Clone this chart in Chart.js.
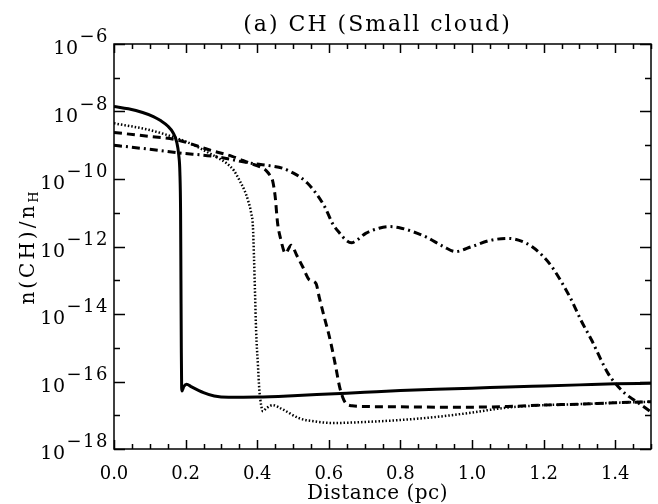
<!DOCTYPE html>
<html>
<head>
<meta charset="utf-8">
<script src="https://cdn.jsdelivr.net/npm/chart.js@4.4.1/dist/chart.umd.min.js"></script>
<style>
  html, body { margin: 0; padding: 0; background: #fff; }
</style>
</head>
<body>
<canvas id="chCloud" width="658" height="504"></canvas>
<script>
// values; abundances kept as log10 of n(CH)/nH
const solidDist = [0, 0.04, 0.08, 0.11, 0.13, 0.15, 0.165, 0.175, 0.181, 0.184, 0.186, 0.187, 0.188, 0.189, 0.19, 0.195, 0.203, 0.215, 0.25, 0.28, 0.32, 0.4, 0.5, 0.6, 0.7, 0.8, 0.9, 1.0, 1.1, 1.2, 1.3, 1.4, 1.5];
const solidLog = [-7.85, -7.92, -8.03, -8.15, -8.27, -8.43, -8.63, -8.9, -9.3, -9.8, -11, -13, -15, -16.2, -16.28, -16.15, -16.08, -16.15, -16.33, -16.43, -16.47, -16.46, -16.42, -16.37, -16.32, -16.27, -16.23, -16.2, -16.16, -16.13, -16.1, -16.07, -16.05];

const dottedDist = [0, 0.1, 0.175, 0.22, 0.267, 0.3, 0.314, 0.335, 0.35, 0.365, 0.374, 0.383, 0.388, 0.391, 0.394, 0.397, 0.402, 0.406, 0.411, 0.416, 0.425, 0.443, 0.47, 0.518, 0.56, 0.61, 0.7, 0.8, 0.9, 1.0, 1.05, 1.1, 1.15, 1.2, 1.3, 1.4, 1.5];
const dottedLog = [-8.35, -8.55, -8.79, -8.98, -9.24, -9.43, -9.53, -9.75, -10.03, -10.35, -10.62, -11.0, -11.4, -12.3, -13.4, -14.5, -15.5, -16.25, -16.7, -16.88, -16.8, -16.7, -16.82, -17.09, -17.18, -17.23, -17.2, -17.14, -17.05, -16.92, -16.84, -16.77, -16.73, -16.7, -16.67, -16.63, -16.6];

const dashedDist = [0, 0.1, 0.175, 0.267, 0.33, 0.379, 0.41, 0.425, 0.435, 0.443, 0.45, 0.457, 0.465, 0.479, 0.495, 0.51, 0.527, 0.546, 0.564, 0.573, 0.587, 0.6, 0.61, 0.62, 0.63, 0.64, 0.648, 0.665, 0.7, 0.8, 0.9, 1.0, 1.1, 1.2, 1.3, 1.4, 1.5];
const dashedLog = [-8.62, -8.74, -8.84, -9.14, -9.33, -9.53, -9.65, -9.75, -9.88, -10.05, -10.5, -11.31, -11.75, -12.2, -11.96, -12.25, -12.6, -12.99, -13.09, -13.49, -14.08, -14.6, -15.07, -15.6, -16.15, -16.5, -16.65, -16.72, -16.74, -16.75, -16.76, -16.76, -16.74, -16.7, -16.67, -16.63, -16.6];

const dashDotDist = [0, 0.1, 0.175, 0.286, 0.379, 0.43, 0.471, 0.5, 0.518, 0.54, 0.564, 0.59, 0.61, 0.63, 0.648, 0.663, 0.68, 0.703, 0.74, 0.768, 0.8, 0.87, 0.92, 0.954, 1.0, 1.05, 1.102, 1.14, 1.167, 1.195, 1.223, 1.25, 1.278, 1.305, 1.334, 1.36, 1.38, 1.4, 1.427, 1.46, 1.5];
const dashDotLog = [-9.0, -9.12, -9.22, -9.34, -9.53, -9.6, -9.68, -9.82, -9.93, -10.12, -10.42, -10.85, -11.31, -11.6, -11.81, -11.89, -11.8, -11.61, -11.46, -11.41, -11.45, -11.71, -12.0, -12.15, -12.0, -11.82, -11.76, -11.85, -12.0, -12.25, -12.6, -13.05, -13.59, -14.2, -14.77, -15.35, -15.76, -16.05, -16.35, -16.6, -16.9];

const xTickLabels = ['0.0', '0.2', '0.4', '0.6', '0.8', '1.0', '1.2', '1.4'];
const yDecades = [-18, -17, -16, -15, -14, -13, -12, -11, -10, -9, -8, -7, -6];
const yLabelExps = ['−18', '−16', '−14', '−12', '−10', '−8', '−6'];

const serif = "'DejaVu Serif', serif";

function toPoints(dist, logs) {
  return dist.map((d, i) => ({ x: d, y: Math.pow(10, logs[i]) }));
}

function isMajorX(v) {
  return Math.abs(v / 0.2 - Math.round(v / 0.2)) < 1e-6;
}

// box, inward ticks on all four sides, y labels with exponents, titles
const frame = {
  id: 'frame',
  afterDraw(chart) {
    const { ctx, chartArea: a, scales: { x, y } } = chart;
    ctx.save();
    ctx.strokeStyle = '#000';
    ctx.lineWidth = 1.5;
    ctx.strokeRect(a.left, a.top, a.right - a.left, a.bottom - a.top);

    ctx.beginPath();
    x.ticks.forEach(t => {
      const px = Math.round(x.getPixelForValue(t.value)) + 0.5;
      const len = isMajorX(t.value) ? 9 : 5;
      ctx.moveTo(px, a.bottom); ctx.lineTo(px, a.bottom - len);
      ctx.moveTo(px, a.top); ctx.lineTo(px, a.top + len);
    });
    y.ticks.forEach(t => {
      const py = Math.round(y.getPixelForValue(t.value)) + 0.5;
      const e = Math.round(Math.log10(t.value));
      const len = e % 2 === 0 ? 11 : 6;
      ctx.moveTo(a.left, py); ctx.lineTo(a.left + len, py);
      ctx.moveTo(a.right, py); ctx.lineTo(a.right - len, py);
    });
    ctx.stroke();

    // y tick labels: "10" with raised exponent
    ctx.fillStyle = '#000';
    ctx.textAlign = 'right';
    ctx.textBaseline = 'alphabetic';
    yLabelExps.forEach(exp => {
      const py = y.getPixelForValue(Math.pow(10, -Number(exp.slice(1))));
      const xr = a.left - 5;
      ctx.letterSpacing = '1.5px';
      ctx.font = '18px ' + serif;
      ctx.fillText(exp, xr, py - 2);
      const w = ctx.measureText(exp).width;
      ctx.letterSpacing = '0.5px';
      ctx.font = '19px ' + serif;
      ctx.fillText('10', xr - w - 1, py + 10);
    });

    // title
    ctx.textAlign = 'center';
    ctx.font = '22px ' + serif;
    ctx.letterSpacing = '2px';
    ctx.fillText('(a) CH (Small cloud)', (a.left + a.right) / 2 - 5, 31);

    // x title
    ctx.letterSpacing = '0.5px';
    ctx.font = '20px ' + serif;
    ctx.fillText('Distance (pc)', (a.left + a.right) / 2 - 5, 499);

    // y title with subscript H
    ctx.translate(34, (a.top + a.bottom) / 2);
    ctx.rotate(-Math.PI / 2);
    ctx.letterSpacing = '3px';
    ctx.font = '20px ' + serif;
    const main = 'n(CH)/n';
    const mw = ctx.measureText(main).width;
    ctx.font = '13px ' + serif;
    const sw = ctx.measureText('H').width;
    const x0 = -(mw + sw) / 2;
    ctx.textAlign = 'left';
    ctx.font = '20px ' + serif;
    ctx.fillText(main, x0, 0);
    ctx.font = '13px ' + serif;
    ctx.fillText('H', x0 + mw, 4);
    ctx.restore();
  }
};

const ctx = document.getElementById('chCloud').getContext('2d');

new Chart(ctx, {
  type: 'line',
  data: {
    datasets: [
      {
        label: 'solid',
        data: toPoints(solidDist, solidLog),
        borderColor: '#000',
        borderWidth: 3
      },
      {
        label: 'dotted',
        data: toPoints(dottedDist, dottedLog),
        borderColor: '#000',
        borderWidth: 2.5,
        borderDash: [1.5, 2]
      },
      {
        label: 'dashed',
        data: toPoints(dashedDist, dashedLog),
        borderColor: '#000',
        borderWidth: 3,
        borderDash: [8, 5]
      },
      {
        label: 'dash-dot',
        data: toPoints(dashDotDist, dashDotLog),
        borderColor: '#000',
        borderWidth: 3,
        borderDash: [8, 4, 2, 4]
      }
    ]
  },
  options: {
    responsive: false,
    animation: false,
    layout: { padding: { top: 44, right: 5, left: 0, bottom: 0 } },
    elements: {
      point: { radius: 0 },
      line: { cubicInterpolationMode: 'monotone', fill: false }
    },
    scales: {
      x: {
        type: 'linear',
        min: 0,
        max: 1.5,
        grid: { display: false },
        border: { display: false },
        ticks: {
          stepSize: 0.05,
          autoSkip: false,
          maxRotation: 0,
          padding: 7,
          color: '#000',
          font: { family: serif, size: 18 },
          callback: v => isMajorX(v) ? xTickLabels[Math.round(v / 0.2)] : ''
        },
        afterFit: s => { s.height = 55; }
      },
      y: {
        type: 'logarithmic',
        min: 1e-18,
        max: 1e-6,
        grid: { display: false },
        border: { display: false },
        ticks: { display: false },
        afterBuildTicks: s => { s.ticks = yDecades.map(e => ({ value: Math.pow(10, e) })); },
        afterFit: s => { s.width = 114; }
      }
    },
    plugins: {
      legend: { display: false },
      tooltip: { enabled: false },
      title: { display: false }
    }
  },
  plugins: [frame]
});
</script>
</body>
</html>
